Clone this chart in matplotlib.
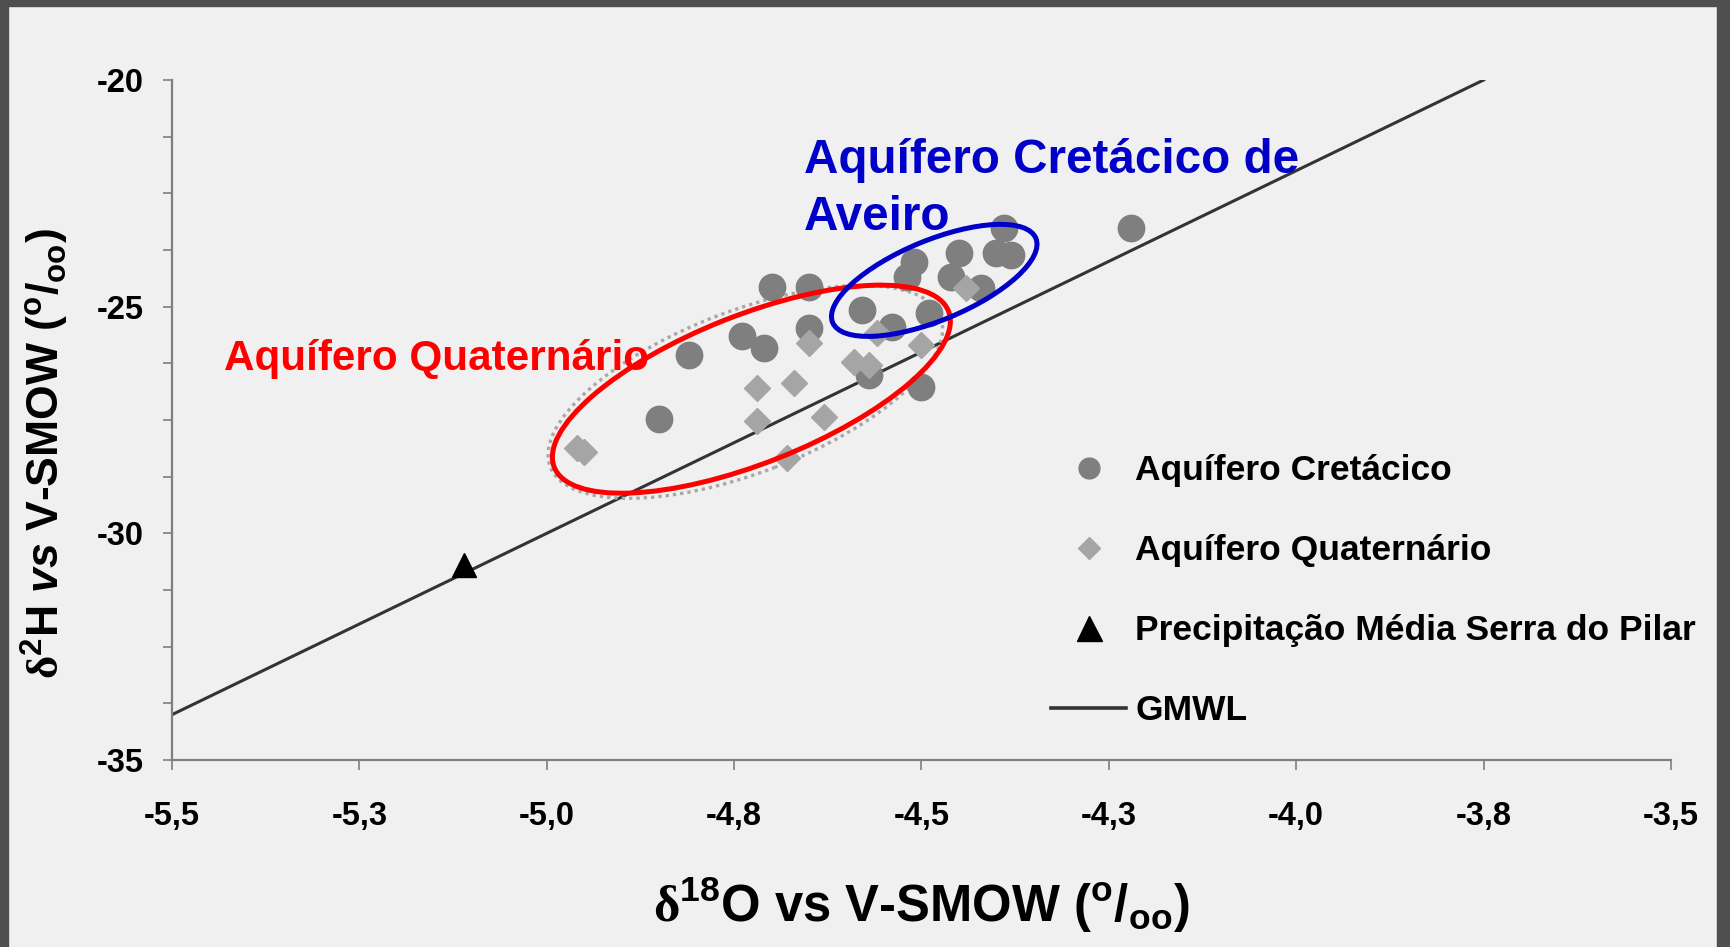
import matplotlib
matplotlib.use("Agg")
import matplotlib.pyplot as plt
from matplotlib.patches import Ellipse, Rectangle
from matplotlib.transforms import ScaledTranslation
from matplotlib.lines import Line2D
from matplotlib.ticker import MultipleLocator, FixedLocator

plt.rcParams['font.family'] = ['Liberation Sans', 'DejaVu Sans']
plt.rcParams['font.weight'] = 'bold'
plt.rcParams['axes.unicode_minus'] = False
plt.rcParams['mathtext.fontset'] = 'custom'
plt.rcParams['mathtext.rm'] = 'Liberation Serif'
plt.rcParams['mathtext.bf'] = 'Liberation Sans:bold'
plt.rcParams['mathtext.it'] = 'Liberation Sans:italic:bold'
plt.rcParams['mathtext.sf'] = 'Liberation Sans:bold'

# Aquífero Cretácico (d18O, d2H)
cret_o18 = [-4.85, -4.81, -4.74, -4.71, -4.70, -4.65, -4.65, -4.58, -4.57, -4.54, -4.51,
            -4.52, -4.50, -4.49, -4.45, -4.46, -4.42, -4.40, -4.38, -4.39, -4.22]
cret_h2 = [-27.48, -26.07, -25.65, -25.91, -24.57, -24.57, -25.47, -25.07, -26.51, -25.45, -24.01,
           -24.35, -26.77, -25.14, -23.82, -24.35, -24.59, -23.82, -23.86, -23.26, -23.26]

# Aquífero Quaternário
quat_o18 = [-4.96, -4.95, -4.72, -4.67, -4.72, -4.68, -4.63, -4.65, -4.59, -4.57, -4.56, -4.44, -4.50]
quat_h2 = [-28.12, -28.21, -26.79, -26.68, -27.52, -28.34, -27.43, -25.80, -26.22, -26.29, -25.58, -24.59, -25.85]

# Precipitação média Serra do Pilar
prec_o18 = [-5.11]
prec_h2 = [-30.7]

# Global meteoric water line end points
gmwl_o18 = [-5.5, -3.75]
gmwl_h2 = [-34.0, -20.0]

xticks = [-5.5, -5.25, -5.0, -4.75, -4.5, -4.25, -4.0, -3.75, -3.5]
xtick_labels = ["-5,5", "-5,3", "-5,0", "-4,8", "-4,5", "-4,3", "-4,0", "-3,8", "-3,5"]
yticks = [-35, -30, -25, -20]

bg = '#f0f0f0'
fig = plt.figure(figsize=(17.31, 9.47), dpi=100, facecolor=bg)
ax = fig.add_axes([172 / 1731, 187 / 947, 1499 / 1731, 680 / 947], facecolor=bg)

ax.plot(gmwl_o18, gmwl_h2, color='#333333', lw=2.2, zorder=2)
ax.plot(cret_o18, cret_h2, ls='none', marker='o', ms=19, color='#7f7f7f', mec='#7f7f7f', zorder=3)
ax.plot(quat_o18, quat_h2, ls='none', marker='D', ms=13.5, color='#a5a5a5', mec='#a5a5a5', zorder=4)
ax.plot(prec_o18, prec_h2, ls='none', marker='^', ms=17, color='black', zorder=4)


def outline(cx, cy, w, h, angle, **kw):
    # ellipse sized in pixels, centred on a data point
    tr = fig.dpi_scale_trans + ScaledTranslation(cx, cy, ax.transData)
    e = Ellipse((0, 0), w / fig.dpi, h / fig.dpi, angle=angle, transform=tr, fill=False, **kw)
    ax.add_artist(e)


outline(-4.735, -26.88, 418, 162, 21.0, ec='#a8a8a8', lw=2.4, ls=(0, (1, 1.2)), zorder=2.5)
outline(-4.727, -26.82, 424, 148, 21.6, ec='#ff0000', lw=3.6, zorder=6)
outline(-4.483, -24.42, 220, 80, 22.5, ec='#0000c8', lw=3.6, zorder=6)

ax.text(-4.657, -22.05, "Aquífero Cretácico de", color='#0000c8', fontsize=34.3,
        fontweight='bold', va='baseline', ha='left', zorder=7)
ax.text(-4.657, -23.31, "Aveiro", color='#0000c8', fontsize=34.3,
        fontweight='bold', va='baseline', ha='left', zorder=7)
ax.text(-5.431, -26.40, "Aquífero Quaternário", color='#ff0000', fontsize=30.4,
        fontweight='bold', va='baseline', ha='left', zorder=7)

ax.set_xlim(-5.5, -3.5)
ax.set_ylim(-35, -20)
ax.xaxis.set_major_locator(FixedLocator(xticks))
ax.set_xticklabels(xtick_labels)
ax.yaxis.set_major_locator(FixedLocator(yticks))
ax.yaxis.set_minor_locator(MultipleLocator(1.25))

for s in ['top', 'right']:
    ax.spines[s].set_visible(False)
for s in ['left', 'bottom']:
    ax.spines[s].set_color('#7f7f7f')
    ax.spines[s].set_linewidth(1.6)

ax.tick_params(axis='x', direction='out', length=7.5, width=1.2, color='#7f7f7f',
               labelsize=23.5, pad=22)
ax.tick_params(axis='y', which='both', direction='out', length=6.5, width=1.2,
               color='#7f7f7f', labelsize=23.5, pad=14)
for lab in ax.get_xticklabels() + ax.get_yticklabels():
    lab.set_fontweight('bold')

ax.set_xlabel(r'$\mathrm{δ}^{\mathbf{18}}$O vs V-SMOW ($^{\mathbf{o}}$/$_{\mathbf{oo}}$)',
              fontsize=36.5, fontweight='bold')
ax.set_ylabel(r'$\mathrm{δ}^{\mathbf{2}}$H $\mathit{vs}$ V-SMOW ($^{\mathbf{o}}$/$_{\mathbf{oo}}$)',
              fontsize=32, fontweight='bold')
ax.xaxis.set_label_coords(0.5, -0.168)
ax.yaxis.set_label_coords(-0.0672, 0.45)

handles = [
    Line2D([], [], ls='none', marker='o', ms=15, color='#7f7f7f'),
    Line2D([], [], ls='none', marker='D', ms=11, color='#a5a5a5'),
    Line2D([], [], ls='none', marker='^', ms=18, color='black'),
    Line2D([], [], color='#333333', lw=2.6),
]
labels = ["Aquífero Cretácico", "Aquífero Quaternário",
          "Precipitação Média Serra do Pilar", "GMWL"]
leg = ax.legend(handles, labels, loc='upper left', frameon=False,
                bbox_to_anchor=(1051 / 1731, (947 - 454) / 947), bbox_transform=fig.transFigure,
                prop={'size': 25.5, 'weight': 'bold'}, handlelength=2.12, handletextpad=0.26,
                labelspacing=1.33, borderpad=0, borderaxespad=0)

# dark frame around the slide
frame = '#4f4f4f'
fig.add_artist(Rectangle((0, 0), 8 / 1731, 1, transform=fig.transFigure, color=frame, zorder=20))
fig.add_artist(Rectangle((0, 1 - 6 / 947), 1, 6 / 947, transform=fig.transFigure, color=frame, zorder=20))
fig.add_artist(Rectangle((1717 / 1731, 0), 14 / 1731, 1, transform=fig.transFigure, color=frame, zorder=20))

fig.savefig("out.png", dpi=100, facecolor=bg)
